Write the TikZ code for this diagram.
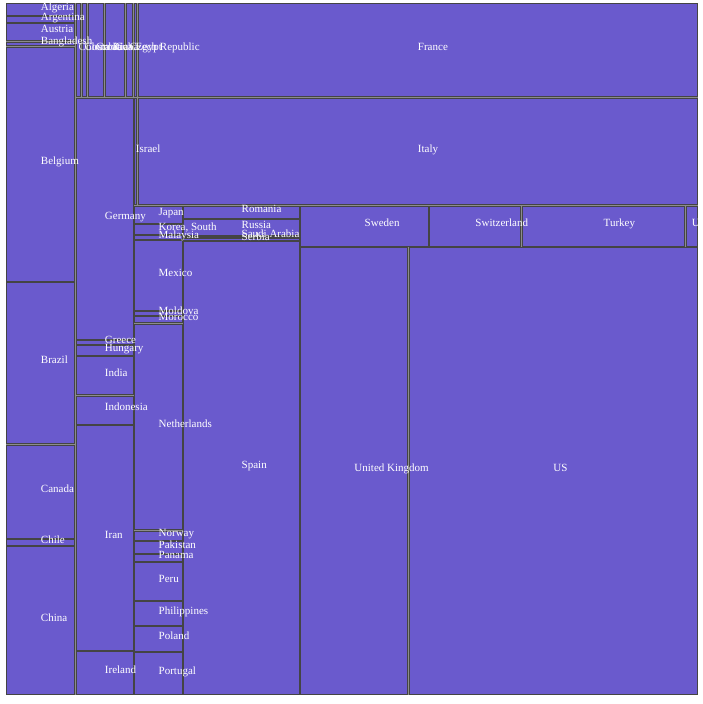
\documentclass[tikz,border=0pt]{standalone}
\usepackage{fontspec}
\setmainfont{Liberation Serif}
\definecolor{cellfill}{RGB}{106,90,205}
\definecolor{cellline}{RGB}{68,68,68}
\definecolor{cellgap}{RGB}{140,140,140}
\def\countrycells{%
  6/3/75.5/16/Algeria,
  6/16/75.5/23/Argentina,
  6/23/75.5/41.5/Austria,
  6/41.5/75.5/46.5/Bangladesh,
  6/46.5/75.5/282/Belgium,
  6/282/75.5/444.5/Brazil,
  6/444.5/75.5/539/Canada,
  6/539/75.5/546/Chile,
  6/546/75.5/695/China,
  75.5/3/81.5/97.5/Colombia,
  81.5/3/87.5/97.5/Costa Rica,
  87.5/3/104.5/97.5/Croatia,
  104.5/3/125.5/97.5/Cuba,
  125.5/3/133.5/97.5/Czech Republic,
  133.5/3/137.5/97.5/Egypt,
  137.5/3/698/97.5/France,
  75.5/97.5/134/340/Germany,
  75.5/340/134/345/Greece,
  75.5/345/134/356/Hungary,
  75.5/356/134/395.5/India,
  75.5/395.5/134/425/Indonesia,
  75.5/425/134/651/Iran,
  75.5/651/134/695/Ireland,
  134/97.5/137.5/205.5/Israel,
  137.5/97.5/698/205.5/Italy,
  134/205.5/183/224/Japan,
  134/224/183/235/{Korea, South},
  134/235/183/240/Malaysia,
  134/240/183/311/Mexico,
  134/311/183/316/Moldova,
  134/316/183/323.5/Morocco,
  134/323.5/183/530.5/Netherlands,
  134/530.5/183/541/Norway,
  134/541/183/554/Pakistan,
  134/554/183/562/Panama,
  134/562/183/601/Peru,
  134/601/183/626/Philippines,
  134/626/183/652/Poland,
  134/652/183/695/Portugal,
  183/205.5/300/219/Romania,
  183/219/300/236/Russia,
  183/236/300/238/Saudi Arabia,
  183/238/300/241/Serbia,
  183/241/300/695/Spain,
  300/205.5/429/247/Sweden,
  429/205.5/521.5/247/Switzerland,
  521.5/205.5/685.5/247/Turkey,
  685.5/205.5/698/247/Ukraine,
  300/247/408.5/695/United Kingdom,
  408.5/247/698/695/US}
\begin{document}
\begin{tikzpicture}
    [
    x=1pt, y=-1pt,
    cell/.style={
      fill=cellfill,
      draw=cellline,
      line width=0.9pt
    },
    countrylabel/.style={
      anchor=base west,
      inner sep=0pt,
      text=white,
      font=\fontsize{11pt}{13pt}\selectfont
    }]
    \useasboundingbox (0,0) rectangle (702,704);
    \fill[cellgap] (6,3) rectangle (698,695);
    \foreach \xa/\ya/\xb/\yb/\country in \countrycells
      \draw[cell] ({\xa+0.9},{\ya+0.9}) rectangle ({\xb-0.9},{\yb-0.9});
    \begin{scope}
      \clip (0,0) rectangle (698.5,704);
      \foreach \xa/\ya/\xb/\yb/\country [count=\i] in \countrycells
        \node[countrylabel] (country\i) at ({(\xa+\xb)/2},{(\ya+\yb)/2+0.5}) {\country};
    \end{scope}
  \end{tikzpicture}
\end{document}
